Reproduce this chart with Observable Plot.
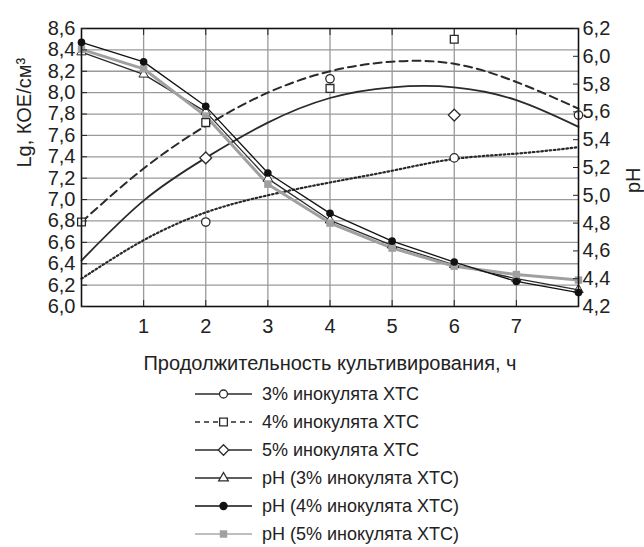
<!DOCTYPE html>
<html><head><meta charset="utf-8">
<script src="https://cdn.jsdelivr.net/npm/d3@7"></script>
<script src="https://cdn.jsdelivr.net/npm/@observablehq/plot@0.6"></script>
<style>
body{margin:0;background:#fff;font-family:"Liberation Sans",Arial,sans-serif;color:#222}
#legend svg{display:block}
</style></head><body><div id="chart"></div><div id="legend"></div>
<script>
// ---- data ----
const hours = [0, 1, 2, 3, 4, 5, 6, 7, 8];
// trend curves, Lg KOE/cm3 (left axis)
const trend3 = [6.26, 6.62, 6.88, 7.04, 7.16, 7.27, 7.38, 7.43, 7.49];   // dotted
const trend4 = [6.79, 7.29, 7.69, 8.00, 8.20, 8.29, 8.27, 8.10, 7.85];   // dashed
const trend5 = [6.43, 6.99, 7.39, 7.72, 7.95, 8.05, 8.05, 7.93, 7.68];   // solid
// measured points, Lg KOE/cm3
const pts3Hours = [2, 4, 6, 8];
const pts3 = [6.79, 8.13, 7.39, 7.79];
const pts4Hours = [0, 2, 4, 6];
const pts4 = [6.79, 7.72, 8.04, 8.50];
const pts5Hours = [2, 6];
const pts5 = [7.39, 7.79];
// pH (right axis)
const ph3 = [6.03, 5.87, 5.60, 5.12, 4.82, 4.64, 4.50, 4.40, 4.32];
const ph4 = [6.10, 5.96, 5.64, 5.16, 4.87, 4.67, 4.52, 4.38, 4.30];
const ph5 = [6.05, 5.91, 5.57, 5.08, 4.80, 4.62, 4.49, 4.43, 4.39];
// ticks
const xTicks = [1, 2, 3, 4, 5, 6, 7];
const leftTicks = [6.0, 6.2, 6.4, 6.6, 6.8, 7.0, 7.2, 7.4, 7.6, 7.8, 8.0, 8.2, 8.4, 8.6];
const rightTicks = [4.2, 4.4, 4.6, 4.8, 5.0, 5.2, 5.4, 5.6, 5.8, 6.0, 6.2];
const xLabel = "Продолжительность культивирования, ч";
const yLabel = "Lg, КОЕ/см³";
const y2Label = "pH";
const legendLabels = ["3% инокулята ХТС", "4% инокулята ХТС", "5% инокулята ХТС",
  "pH (3% инокулята ХТС)", "pH (4% инокулята ХТС)", "pH (5% инокулята ХТС)"];

// ---- helpers ----
const fmt = v => d3.format(".1f")(v).replace(".", ",");
const toLeft = p => 6.0 + (p - 4.2) * 1.3;
const fromLeft = v => 4.2 + (v - 6.0) / 1.3;
const rows = (xs, vs) => xs.map((h, i) => ({h, v: vs[i]}));
const phRows = vs => hours.map((h, i) => ({h, v: toLeft(vs[i])}));

const FONT = "Liberation Sans, Arial, sans-serif";
const ink = "#2a2a2a";

const chart = Plot.plot({
  width: 644, height: 381,
  marginLeft: 81, marginRight: 66, marginTop: 28, marginBottom: 75,
  style: {fontFamily: FONT, fontSize: "20px", color: "#222", background: "#fff"},
  x: {domain: [0, 8], label: null},
  y: {domain: [6.0, 8.6], label: null},
  marks: [
    Plot.gridX(xTicks, {stroke: "#9a9a9a", strokeOpacity: 1, strokeWidth: 1.3}),
    Plot.gridY(leftTicks.slice(1, -1), {stroke: "#9a9a9a", strokeOpacity: 1, strokeWidth: 1.3}),
    // trend curves
    Plot.line(rows(hours, trend3), {x: "h", y: "v", curve: "natural", stroke: ink, strokeWidth: 2.2, strokeDasharray: "1.6,2.6"}),
    Plot.line(rows(hours, trend4), {x: "h", y: "v", curve: "natural", stroke: ink, strokeWidth: 2, strokeDasharray: "8,5"}),
    Plot.line(rows(hours, trend5), {x: "h", y: "v", curve: "natural", stroke: ink, strokeWidth: 1.8}),
    // pH lines
    Plot.line(phRows(ph3), {x: "h", y: "v", stroke: ink, strokeWidth: 1.3}),
    Plot.line(phRows(ph5), {x: "h", y: "v", stroke: "#a0a0a0", strokeWidth: 3}),
    Plot.line(phRows(ph4), {x: "h", y: "v", stroke: "#111", strokeWidth: 1.3}),
    Plot.dot(phRows(ph3), {x: "h", y: "v", symbol: "triangle", r: 3.5, fill: "#fff", stroke: ink, strokeWidth: 1}),
    Plot.dot(phRows(ph5), {x: "h", y: "v", symbol: "square", r: 4.2, fill: "#a0a0a0", stroke: "none"}),
    Plot.dot(phRows(ph4), {x: "h", y: "v", symbol: "circle", r: 3.8, fill: "#111", stroke: "none"}),
    // KOE points
    Plot.dot(rows(pts3Hours, pts3), {x: "h", y: "v", symbol: "circle", r: 4.2, fill: "#fff", stroke: ink, strokeWidth: 1.3}),
    Plot.dot(rows(pts4Hours, pts4), {x: "h", y: "v", symbol: "square", r: 4.4, fill: "#fff", stroke: ink, strokeWidth: 1.3}),
    Plot.dot(rows(pts5Hours, pts5), {x: "h", y: "v", symbol: "diamond2", r: 5.3, fill: "#fff", stroke: ink, strokeWidth: 1.3}),
    Plot.frame({stroke: "#111", strokeWidth: 1.6}),
    // axes (inward ticks)
    Plot.axisY(leftTicks, {anchor: "left", tickSize: -6, tickPadding: 12, tickFormat: fmt, label: null, fontSize: 20}),
    Plot.axisY(rightTicks.map(toLeft), {anchor: "right", tickSize: -6, tickPadding: 10, tickFormat: v => fmt(fromLeft(v)), label: null, fontSize: 20}),
    Plot.axisX(xTicks, {anchor: "bottom", tickSize: -6, tickPadding: 18, tickFormat: d => String(d), label: null, fontSize: 20}),
    Plot.axisX(xTicks, {anchor: "top", tickSize: -6, tickFormat: () => "", label: null}),
    // axis titles
    Plot.text([xLabel], {text: d => d, frameAnchor: "bottom", dy: 57, lineAnchor: "middle", fontSize: 20, fill: "#222"}),
    Plot.text([yLabel], {text: d => d, frameAnchor: "left", dx: -57, rotate: -90, lineAnchor: "middle", fontSize: 20, fill: "#222"}),
    Plot.text([y2Label], {text: d => d, frameAnchor: "right", dx: 55, rotate: -90, lineAnchor: "middle", fontSize: 20, fill: "#222"})
  ]
});
document.getElementById("chart").appendChild(chart);

// ---- legend ----
const styles = [
  {dash: null, w: 1.6, col: ink, sym: d3.symbolCircle, size: 50, fill: "#fff", sc: ink},
  {dash: "5,4", w: 1.6, col: ink, sym: d3.symbolSquare, size: 60, fill: "#fff", sc: ink},
  {dash: null, w: 1.6, col: ink, sym: d3.symbolDiamond2, size: 70, fill: "#fff", sc: ink},
  {dash: null, w: 1.3, col: ink, sym: d3.symbolTriangle, size: 40, fill: "#fff", sc: ink},
  {dash: null, w: 1.6, col: "#111", sym: d3.symbolCircle, size: 55, fill: "#111", sc: "none"},
  {dash: null, w: 1.6, col: "#a8a8a8", sym: d3.symbolSquare, size: 55, fill: "#a0a0a0", sc: "none"}
];
const lsvg = d3.select("#legend").append("svg").attr("width", 644).attr("height", 166)
  .style("font-family", FONT).style("font-size", "18px");
legendLabels.forEach((lab, i) => {
  const y = 13 + i * 28;
  const s = styles[i];
  const g = lsvg.append("g");
  g.append("line").attr("x1", 195).attr("x2", 252).attr("y1", y).attr("y2", y)
    .attr("stroke", s.col).attr("stroke-width", s.w).attr("stroke-dasharray", s.dash);
  g.append("path").attr("d", d3.symbol(s.sym, s.size)()).attr("transform", `translate(223.5,${y})`)
    .attr("fill", s.fill).attr("stroke", s.sc).attr("stroke-width", 1.3);
  g.append("text").attr("x", 262).attr("y", y).attr("dy", "0.35em").attr("fill", "#222").text(lab);
});
</script>
</body></html>
